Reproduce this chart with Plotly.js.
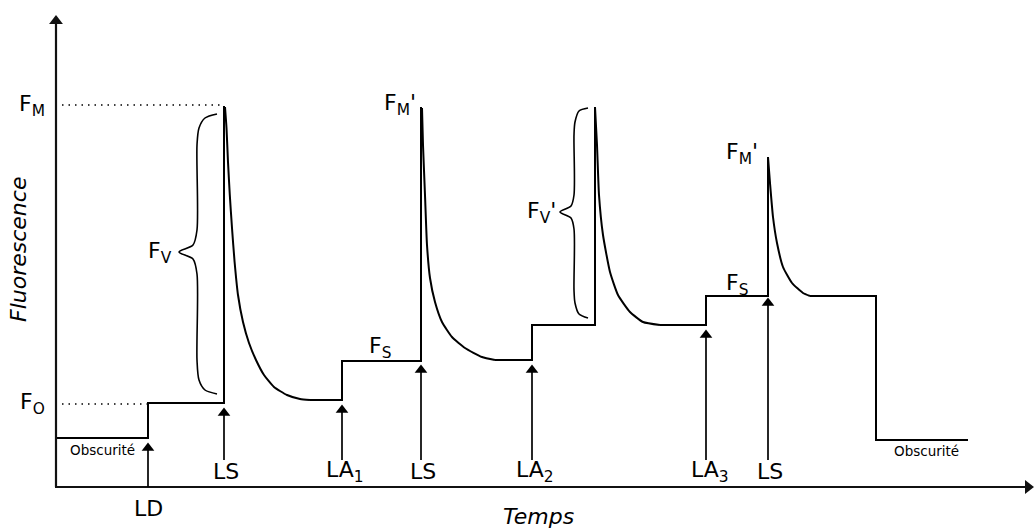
<!DOCTYPE html>
<html>
<head>
<meta charset="utf-8">
<script src="https://cdn.plot.ly/plotly-3.0.1.min.js"></script>
<style>html,body{margin:0;padding:0;background:#fff}#chart{width:1034px;height:531px}</style>
</head>
<body>
<div id="chart"></div>
<script>
// Time (t) and fluorescence (F) in arbitrary units
// Step (linear) segments of the fluorescence trace
const stepA_t = [0, 92, 92, 168, 168];
const stepA_F = [49, 49, 84, 84, 381];
const stepB_t = [254, 286, 286, 365, 365];
const stepB_F = [87, 87, 126, 126, 380];
const stepC_t = [439, 476, 476, 539, 539];
const stepC_F = [127, 127, 162, 162, 380];
const stepD_t = [604, 650, 650, 712, 712];
const stepD_F = [162, 162, 191, 191, 330];
const stepE_t = [754, 820, 820, 912];
const stepE_F = [191, 191, 47, 47];

// Decays after each saturating pulse
const decay1_t = [169, 170.5, 172, 173.8, 176, 178.6, 182, 187, 193, 200, 208, 218, 231, 244, 254];
const decay1_F = [380, 359, 325, 292, 259, 225, 192, 165, 144, 127, 112, 100, 92, 88, 87];
const decay2_t = [366, 367, 369, 371, 374, 379, 386, 396, 409, 426, 439];
const decay2_F = [379, 342, 292, 242, 209, 185, 165, 150, 139, 130, 127];
const decay3_t = [539, 541, 543, 547, 554, 562, 574, 587, 604];
const decay3_F = [380, 342, 292, 252, 215, 192, 175, 165, 162];
const decay4_t = [712, 714, 717, 721, 727, 736, 747, 754];
const decay4_F = [330, 304, 270, 244, 220, 204, 194, 191];

// Reference dotted levels (FM and FO)
const dotFM_t = [6, 168];
const dotFM_F = [382, 382];
const dotFO_t = [6, 92];
const dotFO_F = [83, 83];

// Braces (Fv and Fv')
const brace1_t = [161, 149, 143, 141, 141, 137, 123, 137, 141, 141, 143, 149, 161];
const brace1_F = [373, 369, 359, 342, 257, 242, 235, 228, 213, 127, 107, 97, 93];
const brace2_t = [532, 523, 519, 518, 518, 515, 504, 515, 518, 518, 519, 523, 532];
const brace2_F = [379, 376, 365, 352, 292, 281, 275, 269, 258, 197, 184, 173, 169];

// Axes (with arrow tips)
const yAxis_t = [0, 0];
const yAxis_F = [0, 466];
const xAxis_t = [-1, 972];
const xAxis_F = [0, 0];

// Light events (arrows)
const eventLabels = ['LD', 'LS', 'LA<sub>1</sub>', 'LS', 'LA<sub>2</sub>', 'LA<sub>3</sub>', 'LS'];
const eventT = [92, 168, 286, 365, 476, 650, 712];
const eventHeadF = [39, 74, 77, 117, 117, 152, 184];
const eventTailF = [0, 27, 27, 27, 27, 27, 27];
const eventLabelF = [-21, 16, 16, 16, 16, 16, 16];
const eventLabelDx = [0, 2, 3, 2, 3, 4, 2];

// Level labels
const levelLabels = ['F<sub>M</sub>', 'F<sub>O</sub>', 'F<sub>V</sub>', 'F<sub>M</sub>\'', 'F<sub>S</sub>', 'F<sub>V</sub>\'', 'F<sub>S</sub>', 'F<sub>M</sub>\''];
const levelT = [-9, -9, 118, 362, 324, 502, 681, 704];
const levelF = [382, 84, 235, 383, 140, 275, 203, 334];
const levelAnchor = ['right', 'right', 'right', 'right', 'center', 'right', 'center', 'right'];

const darkLabel = 'Obscurité';
const darkT = [46, 870];
const darkF = [37, 36];

const lineStyle = {color: '#000', width: 2};
const traces = [];
[[stepA_t, stepA_F], [stepB_t, stepB_F], [stepC_t, stepC_F], [stepD_t, stepD_F], [stepE_t, stepE_F]].forEach(s => {
  traces.push({x: s[0], y: s[1], mode: 'lines', line: lineStyle, hoverinfo: 'skip'});
});
[[decay1_t, decay1_F], [decay2_t, decay2_F], [decay3_t, decay3_F], [decay4_t, decay4_F]].forEach(s => {
  traces.push({x: s[0], y: s[1], mode: 'lines', line: {color: '#000', width: 2, shape: 'spline', smoothing: 0.5}, hoverinfo: 'skip'});
});
[[dotFM_t, dotFM_F], [dotFO_t, dotFO_F]].forEach(s => {
  traces.push({x: s[0], y: s[1], mode: 'lines', line: {color: '#000', width: 1.3, dash: '1.5px,5px'}, hoverinfo: 'skip'});
});
[[brace1_t, brace1_F], [brace2_t, brace2_F]].forEach(s => {
  traces.push({x: s[0], y: s[1], mode: 'lines', line: {color: '#000', width: 1.6, shape: 'spline', smoothing: 0.8}, hoverinfo: 'skip'});
});
// axes
traces.push({x: yAxis_t, y: yAxis_F, mode: 'lines', line: {color: '#111', width: 2.2}, hoverinfo: 'skip'});
traces.push({x: xAxis_t, y: xAxis_F, mode: 'lines', line: {color: '#111', width: 2.2}, hoverinfo: 'skip'});
traces.push({x: [yAxis_t[1]], y: [yAxis_F[1]], mode: 'markers', marker: {symbol: 'triangle-up', size: 12, color: '#111', line: {width: 0}}, cliponaxis: false, hoverinfo: 'skip'});
traces.push({x: [xAxis_t[1]], y: [xAxis_F[1]], mode: 'markers', marker: {symbol: 'triangle-right', size: 12, color: '#111', line: {width: 0}}, cliponaxis: false, hoverinfo: 'skip'});
// event arrows
eventT.forEach((t, i) => {
  traces.push({x: [t, t], y: [eventTailF[i], eventHeadF[i]], mode: 'lines',
    line: {color: '#000', width: 1.7}, cliponaxis: false, hoverinfo: 'skip'});
});
traces.push({x: eventT, y: eventHeadF, mode: 'markers',
  marker: {symbol: 'triangle-up', size: 11, color: '#000', line: {width: 0}}, cliponaxis: false, hoverinfo: 'skip'});

const font = {family: 'DejaVu Sans, Verdana, sans-serif', color: '#000'};
const annotations = [];
eventT.forEach((t, i) => {
  annotations.push({x: t + eventLabelDx[i], y: eventLabelF[i], xref: 'x', yref: 'y', text: eventLabels[i], showarrow: false, xanchor: 'center', yanchor: 'middle', font: Object.assign({size: 22}, font)});
});
levelLabels.forEach((txt, i) => {
  annotations.push({x: levelT[i], y: levelF[i], xref: 'x', yref: 'y', text: txt, showarrow: false, xanchor: levelAnchor[i], yanchor: 'middle', font: Object.assign({size: 22}, font)});
});
darkT.forEach((t, i) => {
  annotations.push({x: t, y: darkF[i], xref: 'x', yref: 'y', text: darkLabel, showarrow: false, xanchor: 'center', yanchor: 'middle', font: Object.assign({size: 13.5}, font)});
});
// axis titles
annotations.push({x: -38, y: 237, xref: 'x', yref: 'y', text: '<i>Fluorescence</i>', showarrow: false, textangle: -90, xanchor: 'center', yanchor: 'middle', font: Object.assign({size: 22}, font)});
annotations.push({x: 482, y: -29, xref: 'x', yref: 'y', text: '<i>Temps</i>', showarrow: false, xanchor: 'center', yanchor: 'middle', font: Object.assign({size: 22}, font)});

const layout = {
  width: 1034, height: 531,
  margin: {l: 0, r: 0, t: 0, b: 0},
  paper_bgcolor: '#fff', plot_bgcolor: '#fff',
  showlegend: false,
  xaxis: {range: [-56, 978], visible: false, fixedrange: true},
  yaxis: {range: [-44, 487], visible: false, fixedrange: true},
  annotations: annotations,
  hovermode: false
};
Plotly.newPlot('chart', traces, layout, {displayModeBar: false, staticPlot: true});
</script>
</body>
</html>
